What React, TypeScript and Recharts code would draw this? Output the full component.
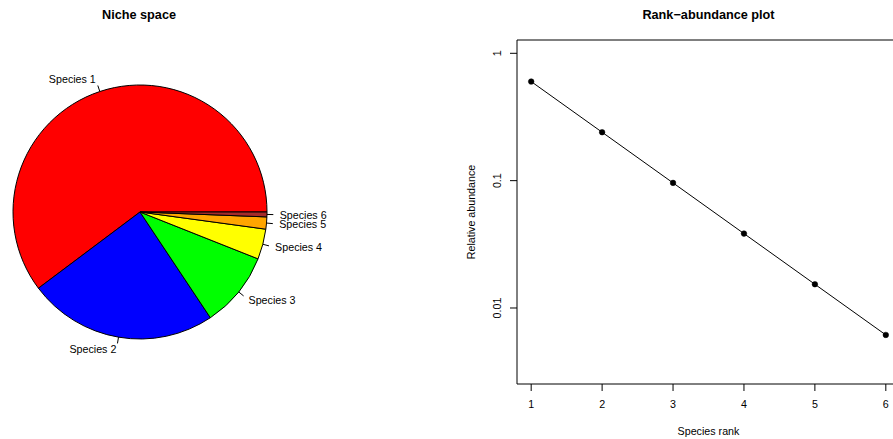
import * as React from "react"
import {
  Pie,
  PieChart,
  Cell,
  LineChart,
  Line,
  XAxis,
  YAxis,
  ReferenceArea,
} from "recharts"

const species = ["Species 1", "Species 2", "Species 3", "Species 4", "Species 5", "Species 6"]
const abundance = [0.6, 0.24, 0.096, 0.0384, 0.01536, 0.006144]
const ranks = [1, 2, 3, 4, 5, 6]
const rankTicks = [1, 2, 3, 4, 5, 6]
const abundanceTicks = [0.01, 0.1, 1]

const sliceColors = ["#ff0000", "#0000ff", "#00ff00", "#ffff00", "#ffa500", "#a52a2a"]

const FONT = '"Liberation Sans", Arial, Helvetica, sans-serif'
const LABEL_SIZE = 10.7

const pieData = species.map((name, i) => ({ name, value: abundance[i] }))
const rankData = ranks.map((rank, i) => ({ rank, abundance: abundance[i] }))

// R-style pie labels: short tick from r to 1.05r, text at 1.1r
const renderPieLabel = (props: any) => {
  const { cx, cy, midAngle, outerRadius, index } = props
  const rad = (-midAngle * Math.PI) / 180
  const c = Math.cos(rad)
  const s = Math.sin(rad)
  return (
    <g>
      <line
        x1={cx + outerRadius * c}
        y1={cy + outerRadius * s}
        x2={cx + outerRadius * 1.05 * c}
        y2={cy + outerRadius * 1.05 * s}
        stroke="#000"
        strokeWidth={1}
      />
      <text
        x={cx + outerRadius * 1.1 * c}
        y={cy + outerRadius * 1.1 * s}
        dy={3.8}
        textAnchor={c >= 0 ? "start" : "end"}
        fontSize={LABEL_SIZE}
        fontFamily={FONT}
        fill="#000"
      >
        {species[index]}
      </text>
    </g>
  )
}

const YTick = (props: any) => {
  const { x, y, payload } = props
  return (
    <text
      transform={`translate(${x},${y}) rotate(-90)`}
      textAnchor="middle"
      fontSize={LABEL_SIZE}
      fontFamily={FONT}
      fill="#000"
    >
      {String(payload.value)}
    </text>
  )
}

export default function App() {
  return (
    <div
      style={{
        position: "fixed",
        top: 0,
        left: 0,
        width: 893,
        height: 439,
        overflow: "hidden",
        background: "#fff",
        fontFamily: FONT,
      }}
    >
      <div style={{ position: "absolute", left: 0, top: 0 }}>
        <PieChart width={446} height={439} margin={{ top: 0, right: 0, bottom: 0, left: 0 }}>
          <Pie
            data={pieData}
            dataKey="value"
            nameKey="name"
            cx={140}
            cy={212}
            outerRadius={127}
            startAngle={0}
            endAngle={360}
            stroke="#000"
            strokeWidth={1}
            label={renderPieLabel}
            labelLine={false}
            isAnimationActive={false}
          >
            {pieData.map((d, i) => (
              <Cell key={d.name} fill={sliceColors[i]} />
            ))}
          </Pie>
        </PieChart>
      </div>

      <div style={{ position: "absolute", left: 446, top: 0 }}>
        <LineChart
          width={470}
          height={439}
          data={rankData}
          margin={{ top: 40, right: 16, bottom: 0, left: 0 }}
        >
          <XAxis
            dataKey="rank"
            type="number"
            domain={[0.8, 6.2]}
            ticks={rankTicks}
            allowDataOverflow
            axisLine={false}
            tickLine={{ stroke: "#000" }}
            tickSize={7}
            tickMargin={9}
            height={55}
            tick={{ fontSize: LABEL_SIZE, fill: "#000", fontFamily: FONT }}
            label={(p: any) => {
              const vb = p.viewBox
              return (
                <text
                  x={vb.x + vb.width / 2}
                  y={vb.y + 51}
                  textAnchor="middle"
                  fontSize={LABEL_SIZE}
                  fontFamily={FONT}
                  fill="#000"
                >
                  Species rank
                </text>
              )
            }}
          />
          <YAxis
            dataKey="abundance"
            type="number"
            scale="log"
            domain={[0.00253, 1.272]}
            ticks={abundanceTicks}
            allowDataOverflow
            axisLine={false}
            tickLine={{ stroke: "#000" }}
            tickSize={7}
            tickMargin={9.5}
            width={71}
            tick={<YTick />}
            label={(p: any) => {
              const vb = p.viewBox
              const x = vb.x + 29
              const y = vb.y + vb.height / 2
              return (
                <text
                  transform={`translate(${x},${y}) rotate(-90)`}
                  textAnchor="middle"
                  fontSize={LABEL_SIZE}
                  fontFamily={FONT}
                  fill="#000"
                >
                  Relative abundance
                </text>
              )
            }}
          />
          <ReferenceArea
            x1={0.8}
            x2={6.2}
            y1={0.00253}
            y2={1.272}
            fill="none"
            fillOpacity={0}
            stroke="#000"
            strokeWidth={1}
            ifOverflow="visible"
          />
          <Line
            dataKey="abundance"
            stroke="#000"
            strokeWidth={1}
            dot={{ r: 2.8, fill: "#000", stroke: "#000", strokeWidth: 0.5 }}
            activeDot={false}
            isAnimationActive={false}
          />
        </LineChart>
      </div>

      <svg
        width={893}
        height={439}
        style={{ position: "absolute", left: 0, top: 0, pointerEvents: "none" }}
      >
        <text x={139} y={18.5} textAnchor="middle" fontSize={12.7} fontWeight="bold" fontFamily={FONT} fill="#000">
          Niche space
        </text>
        <text x={708.5} y={18.5} textAnchor="middle" fontSize={12.7} fontWeight="bold" fontFamily={FONT} fill="#000">
          Rank−abundance plot
        </text>
      </svg>
    </div>
  )
}
